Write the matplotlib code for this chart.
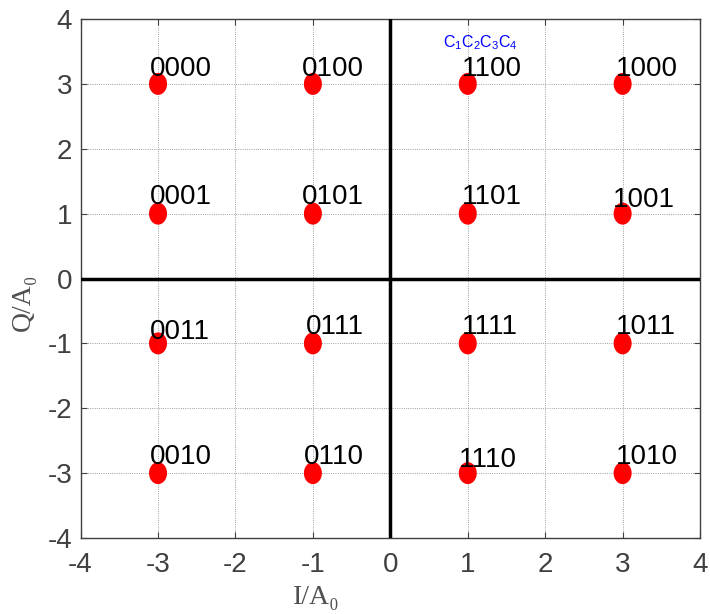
import numpy as np
import matplotlib.pyplot as plt

# constellation points (I, Q) and their bit labels
i_vals = [-3, -1, 1, 3, -3, -1, 1, 3, -3, -1, 1, 3, -3, -1, 1, 3]
q_vals = [3, 3, 3, 3, 1, 1, 1, 1, -1, -1, -1, -1, -3, -3, -3, -3]
bits = ['0000', '0100', '1100', '1000',
        '0001', '0101', '1101', '1001',
        '0011', '0111', '1111', '1011',
        '0010', '0110', '1110', '1010']
# where each label sits (left / baseline)
lab_x = [-3.10, -1.14, 0.93, 2.91,
         -3.10, -1.14, 0.93, 2.88,
         -3.10, -1.09, 0.93, 2.91,
         -3.10, -1.12, 0.88, 2.91]
lab_y = [3.12, 3.12, 3.12, 3.12,
         1.15, 1.15, 1.15, 1.11,
         -0.94, -0.86, -0.86, -0.86,
         -2.86, -2.86, -2.91, -2.86]

plt.rcParams['font.family'] = ['Liberation Sans', 'DejaVu Sans']
plt.rcParams['axes.unicode_minus'] = False
plt.rcParams['mathtext.fontset'] = 'custom'
plt.rcParams['mathtext.rm'] = 'Liberation Sans'
plt.rcParams['mathtext.it'] = 'Liberation Sans'

fig = plt.figure(figsize=(7.1, 6.14), dpi=100)
ax = fig.add_axes([0.1135, 0.1238, 0.8725, 0.8452])

t = np.linspace(0, 2*np.pi, 60)
ell = np.column_stack([0.41*np.cos(t), 0.5*np.sin(t)])
ax.scatter(i_vals, q_vals, marker=ell, s=250, c='red', edgecolors='none', zorder=4)

for x, y, b in zip(lab_x, lab_y, bits):
    ax.text(x, y, b, fontsize=20, ha='left', va='baseline', color='black', zorder=5)

ax.text(0.68, 3.57, r'$\mathrm{C_1C_2C_3C_4}$', fontsize=11.5, color='blue',
        ha='left', va='baseline')

ax.axhline(0, color='black', lw=2.5, zorder=3)
ax.axvline(0, color='black', lw=2.5, zorder=3)

ax.set_xlim(-4, 4)
ax.set_ylim(-4, 4)
ax.set_xticks(range(-4, 5))
ax.set_yticks(range(-4, 5))
ax.grid(True, color='gray', linestyle=':', linewidth=0.6)
ax.tick_params(direction='in', length=4, labelsize=20, labelcolor='#404040', color='#404040',
               top=True, right=True)
ax.tick_params(axis='x', pad=10)
ax.tick_params(axis='y', pad=6)
for sp in ax.spines.values():
    sp.set_color('#404040')
    sp.set_linewidth(1)

ax.set_xlabel('I/A₀', fontsize=20, color='#505050', family=['Liberation Serif', 'DejaVu Serif'])
ax.set_ylabel('Q/A₀', fontsize=20, color='#505050', family=['Liberation Serif', 'DejaVu Serif'])
ax.xaxis.set_label_coords(0.38, -0.09)
ax.yaxis.set_label_coords(-0.072, 0.455)

fig.savefig('out.png', dpi=100)
